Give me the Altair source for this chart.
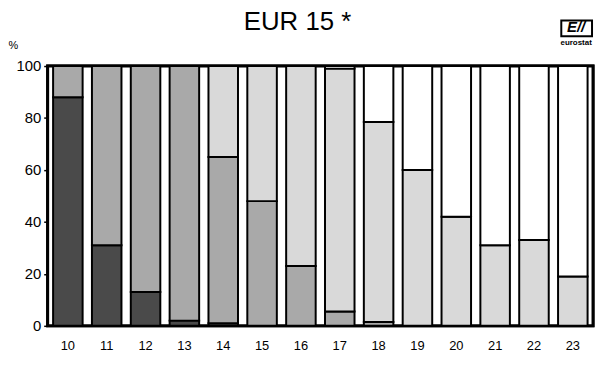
import altair as alt
import pandas as pd

ages = ["10", "11", "12", "13", "14", "15", "16", "17", "18", "19", "20", "21", "22", "23"]
seg_a = [88, 31, 13, 2, 1, 0, 0, 0, 0, 0, 0, 0, 0, 0]
seg_b = [12, 69, 87, 98, 64, 48, 23, 5.5, 1.5, 0, 0, 0, 0, 0]
seg_c = [0, 0, 0, 0, 35, 52, 77, 93.5, 77, 60, 42, 31, 33, 19]
seg_d = [0, 0, 0, 0, 0, 0, 0, 1, 21.5, 40, 58, 69, 67, 81]
cats = ["A", "B", "C", "D"]
cat_colors = ["#4a4a4a", "#a9a9a9", "#d9d9d9", "#ffffff"]

rows = []
for i, age in enumerate(ages):
    for j, (c, vals) in enumerate(zip(cats, [seg_a, seg_b, seg_c, seg_d])):
        if vals[i] > 0:
            rows.append({"age": age, "cat": c, "order": j, "value": vals[i]})
df = pd.DataFrame(rows)

FONT = "Liberation Sans"

frame_df = pd.DataFrame({"lo": [0], "hi": [100]})
frame = alt.Chart(frame_df).mark_rect(fill="white", stroke="black", strokeWidth=3).encode(
    y=alt.Y("lo:Q", scale=alt.Scale(domain=[0, 100], nice=False)), y2="hi:Q",
    x=alt.value(0), x2=alt.value(550))

bars = alt.Chart(df).mark_bar(stroke="black", strokeWidth=2).encode(
    x=alt.X("age:O", sort=ages,
            scale=alt.Scale(paddingInner=0.24, paddingOuter=0.14),
            axis=alt.Axis(title=None, labelAngle=0, labelFont=FONT, labelFontSize=13,
                          labelColor="black", ticks=False, domain=False, labelPadding=14)),
    y=alt.Y("value:Q", stack="zero", scale=alt.Scale(domain=[0, 100], nice=False),
            axis=alt.Axis(title="%", titleAngle=0, titleX=-40, titleY=-16, titleAlign="left",
                          titleFont=FONT, titleFontSize=11, titleFontWeight="normal",
                          titleColor="black",
                          values=[0, 10, 20, 30, 40, 50, 60, 70, 80, 90, 100],
                          labelExpr="datum.value % 20 == 0 ? datum.label : ''",
                          labelFont=FONT, labelFontSize=15, labelColor="black",
                          tickSize=4, tickColor="black", tickWidth=1.5, labelPadding=3,
                          grid=False, domain=False)),
    color=alt.Color("cat:N", scale=alt.Scale(domain=cats, range=cat_colors), legend=None),
    order=alt.Order("order:Q"),
)

label_df = pd.DataFrame({"title": ["EUR 15 *"], "t": ["E//"], "s": ["eurostat"]})
title = alt.Chart(label_df).mark_text(font=FONT, fontSize=26, align="center",
                                      baseline="bottom", color="black").encode(
    text="title:N", x=alt.value(252), y=alt.value(-31))
logo_box = alt.Chart(label_df).mark_rect(fill="white", stroke="black", strokeWidth=2).encode(
    x=alt.value(518), x2=alt.value(549), y=alt.value(-46), y2=alt.value(-30))
logo1 = alt.Chart(label_df).mark_text(font=FONT, fontSize=15, fontWeight="bold",
                                      fontStyle="italic", align="center", baseline="bottom").encode(
    text="t:N", x=alt.value(533), y=alt.value(-31))
logo2 = alt.Chart(label_df).mark_text(font=FONT, fontSize=8, fontWeight="bold",
                                      align="center", baseline="bottom").encode(
    text="s:N", x=alt.value(533), y=alt.value(-19))

chart = alt.layer(frame, bars, title, logo_box, logo1, logo2).properties(
    width=550, height=262,
    autosize=alt.AutoSizeParams(type="none"),
    padding={"left": 40, "top": 57, "right": 2, "bottom": 40},
).configure(background="white", view=alt.ViewConfig(stroke="black", strokeWidth=3))

chart.save("out.html", embed_options={"renderer": "svg", "actions": False})
